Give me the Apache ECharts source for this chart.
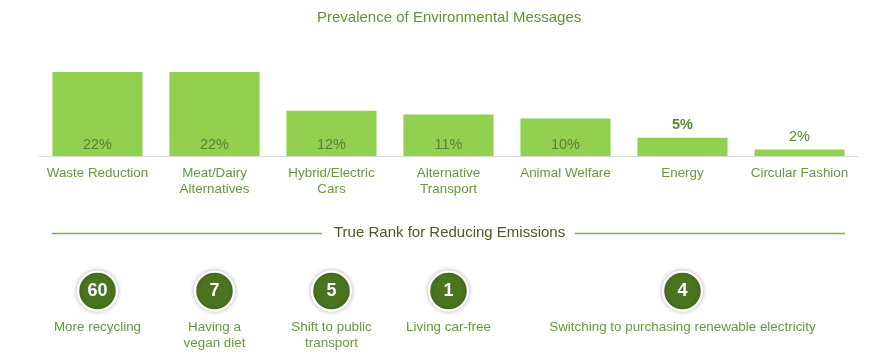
<!DOCTYPE html>
<html>
<head>
<meta charset="utf-8">
<script src="https://cdn.jsdelivr.net/npm/echarts@6/dist/echarts.min.js"></script>
<style>
  html, body { margin: 0; padding: 0; background: #fff; }
  #chart { width: 869px; height: 358px; }
</style>
</head>
<body>
<div id="chart"></div>
<script>
// ---- Data ----
var categories = ['Waste Reduction', 'Meat/Dairy\nAlternatives', 'Hybrid/Electric\nCars', 'Alternative\nTransport', 'Animal Welfare', 'Energy', 'Circular Fashion'];
var prevalence = [22.1, 22.1, 11.9, 10.9, 9.9, 4.8, 1.7];
var prevalenceLabels = ['22%', '22%', '12%', '11%', '10%', '5%', '2%'];
var rankActions = ['More recycling', 'Having a\nvegan diet', 'Shift to public\ntransport', 'Living car-free', '', 'Switching to purchasing renewable electricity', ''];
var rankValues = [60, 7, 5, 1, null, 4, null];
var rankRow = ['True Rank for Reducing Emissions'];

var FONT = '"Liberation Sans", Arial, sans-serif';
var BAR = '#92d050';
var DARK = '#4a7420';
var TXT = '#679a3a';

var chart = echarts.init(document.getElementById('chart'), null, { renderer: 'canvas' });

var barData = prevalence.map(function (v, i) {
  var small = v < 8;
  return {
    value: v,
    label: small ? {
      position: 'top',
      distance: 5,
      fontWeight: i === 5 ? 'bold' : 'normal',
      color: '#5a8a2e'
    } : undefined
  };
});

var rankData = [];
rankValues.forEach(function (r, i) {
  if (r !== null) rankData.push({ value: [i, 0], rank: r });
});

chart.setOption({
  animation: false,
  backgroundColor: '#ffffff',
  textStyle: { fontFamily: FONT },
  title: [{
    text: 'Prevalence of Environmental Messages',
    left: 312,
    top: 5,
    textStyle: { fontFamily: FONT, fontSize: 15, fontWeight: 'normal', color: '#5e9532' }
  }, {
    text: rankRow[0],
    left: 329,
    top: 220,
    textStyle: { fontFamily: FONT, fontSize: 15, fontWeight: 'normal', color: '#4b5a2a' }
  }],
  graphic: [
    { type: 'line', shape: { x1: 52, y1: 233.5, x2: 322, y2: 233.5 }, style: { stroke: '#7cb04a', lineWidth: 1.5 } },
    { type: 'line', shape: { x1: 575, y1: 233.5, x2: 845, y2: 233.5 }, style: { stroke: '#7cb04a', lineWidth: 1.5 } }
  ],
  grid: [
    { left: 39, right: 11, top: 42, bottom: 202, containLabel: false },
    { left: 39, right: 11, top: 271, bottom: 47, containLabel: false }
  ],
  xAxis: [{
    type: 'category',
    gridIndex: 0,
    data: categories,
    axisLine: { show: true, lineStyle: { color: '#d9d9d9', width: 1 } },
    axisTick: { show: false },
    axisLabel: { interval: 0, color: TXT, fontSize: 13.4, fontFamily: FONT, lineHeight: 16, margin: 9 }
  }, {
    type: 'category',
    gridIndex: 1,
    data: rankActions,
    axisLine: { show: false },
    axisTick: { show: false },
    axisLabel: { interval: 0, color: TXT, fontSize: 13.4, fontFamily: FONT, lineHeight: 16, margin: 8 }
  }],
  yAxis: [{
    type: 'value',
    gridIndex: 0,
    min: 0, max: 30,
    show: false
  }, {
    type: 'category',
    gridIndex: 1,
    data: rankRow,
    show: false
  }],
  series: [{
    type: 'bar',
    xAxisIndex: 0,
    yAxisIndex: 0,
    data: barData,
    barCategoryGap: '23%',
    itemStyle: { color: BAR },
    label: {
      show: true,
      position: 'insideBottom',
      distance: 4,
      fontSize: 14.5,
      fontFamily: FONT,
      color: '#5b7f37',
      formatter: function (p) { return prevalenceLabels[p.dataIndex]; }
    }
  }, {
    type: 'scatter',
    xAxisIndex: 1,
    yAxisIndex: 1,
    data: rankData,
    symbol: 'circle',
    symbolSize: 39,
    itemStyle: {
      color: DARK,
      opacity: 1,
      borderColor: '#ffffff',
      borderWidth: 2.5,
      shadowBlur: 4,
      shadowColor: 'rgba(0,0,0,0.25)'
    },
    label: {
      show: true,
      position: 'inside',
      color: '#ffffff',
      fontSize: 18,
      fontWeight: 'bold',
      fontFamily: FONT,
      formatter: function (p) { return String(p.data.rank); }
    }
  }]
});
</script>
</body>
</html>
